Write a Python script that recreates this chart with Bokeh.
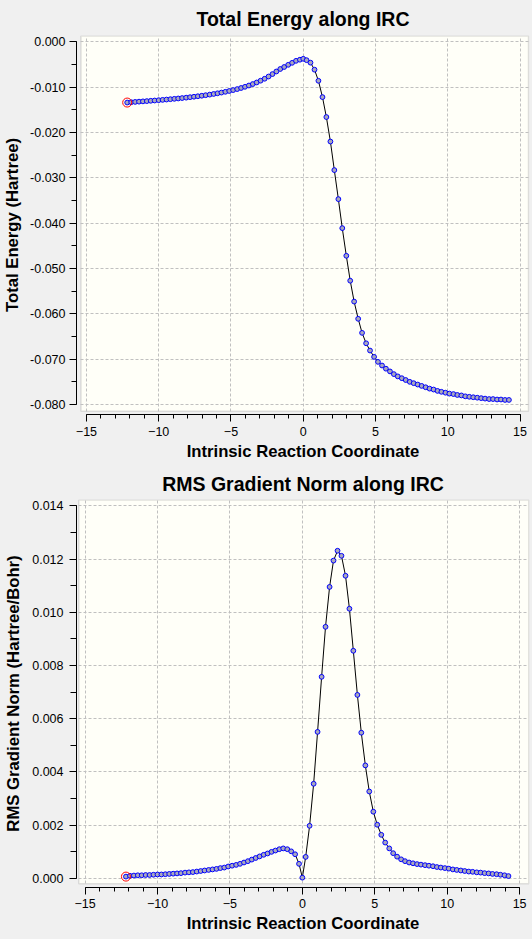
from bokeh.plotting import figure
from bokeh.layouts import column
from bokeh.models import SingleIntervalTicker, NumeralTickFormatter, BoxAnnotation, Range1d
from bokeh.embed import file_html
from bokeh.resources import INLINE

# ---------------- data ----------------
irc_x = [-12.18, -11.90, -11.63, -11.36, -11.09, -10.82, -10.55, -10.28, -10.00, -9.73,
         -9.46, -9.19, -8.92, -8.65, -8.38, -8.10, -7.83, -7.56, -7.29, -7.02,
         -6.75, -6.47, -6.20, -5.93, -5.66, -5.39, -5.12, -4.85, -4.57, -4.30,
         -4.03, -3.76, -3.49, -3.22, -2.95, -2.67, -2.40, -2.13, -1.86, -1.59,
         -1.32, -1.04, -0.77, -0.50, -0.23, 0.00,
         0.23, 0.50, 0.78, 1.05, 1.33, 1.60, 1.88, 2.15, 2.43, 2.70,
         2.98, 3.25, 3.52, 3.80, 4.07, 4.35, 4.62, 4.90, 5.17, 5.45,
         5.72, 6.00, 6.27, 6.54, 6.82, 7.09, 7.37, 7.64, 7.92, 8.19,
         8.47, 8.74, 9.02, 9.29, 9.56, 9.84, 10.11, 10.39, 10.66, 10.94,
         11.21, 11.49, 11.76, 12.04, 12.31, 12.58, 12.86, 13.13, 13.41, 13.68,
         13.96, 14.23]

total_energy = [-0.01340, -0.01333, -0.01326, -0.01320, -0.01314, -0.01308, -0.01301, -0.01295, -0.01288, -0.01281,
                -0.01274, -0.01266, -0.01258, -0.01250, -0.01241, -0.01232, -0.01222, -0.01212, -0.01201, -0.01190,
                -0.01178, -0.01165, -0.01151, -0.01136, -0.01120, -0.01103, -0.01085, -0.01065, -0.01043, -0.01019,
                -0.00993, -0.00964, -0.00932, -0.00897, -0.00858, -0.00815, -0.00766, -0.00712, -0.00655, -0.00600,
                -0.00556, -0.00508, -0.00464, -0.00420, -0.00395, -0.00375,
                -0.00405, -0.00460, -0.00615, -0.00860, -0.01220, -0.01660, -0.02200, -0.02830, -0.03470, -0.04110,
                -0.04720, -0.05270, -0.05730, -0.06110, -0.06420, -0.06650, -0.06810, -0.06950, -0.07060, -0.07140,
                -0.07210, -0.07270, -0.07330, -0.07380, -0.07420, -0.07460, -0.07500, -0.07530, -0.07560, -0.07590,
                -0.07620, -0.07650, -0.07670, -0.07700, -0.07720, -0.07740, -0.07760, -0.07770, -0.07790, -0.07800,
                -0.07820, -0.07830, -0.07840, -0.07850, -0.07860, -0.07870, -0.07880, -0.07880, -0.07890, -0.07890,
                -0.07900, -0.07900]

rms_gradient = [0.00006, 0.00009, 0.00010, 0.00011, 0.00011, 0.00012, 0.00012, 0.00013, 0.00014, 0.00014,
                0.00015, 0.00016, 0.00017, 0.00018, 0.00019, 0.00021, 0.00022, 0.00023, 0.00025, 0.00027,
                0.00029, 0.00031, 0.00033, 0.00035, 0.00038, 0.00040, 0.00044, 0.00047, 0.00050, 0.00054,
                0.00059, 0.00064, 0.00070, 0.00076, 0.00082, 0.00088, 0.00093, 0.00099, 0.00104, 0.00109,
                0.00112, 0.00109, 0.00101, 0.00090, 0.00054, 0.00002,
                0.00080, 0.00197, 0.00355, 0.00550, 0.00757, 0.00945, 0.01095, 0.01194, 0.01231, 0.01212,
                0.01137, 0.01013, 0.00855, 0.00689, 0.00547, 0.00424, 0.00326, 0.00250, 0.00201, 0.00163,
                0.00134, 0.00112, 0.00094, 0.00081, 0.00071, 0.00064, 0.00059, 0.00056, 0.00053, 0.00051,
                0.00049, 0.00047, 0.00045, 0.00042, 0.00040, 0.00038, 0.00036, 0.00033, 0.00031, 0.00029,
                0.00027, 0.00025, 0.00024, 0.00022, 0.00021, 0.00019, 0.00018, 0.00016, 0.00015, 0.00013,
                0.00011, 0.00008]

titles = ["Total Energy along IRC", "RMS Gradient Norm along IRC"]
y_labels = ["Total Energy (Hartree)", "RMS Gradient Norm (Hartree/Bohr)"]
x_label = "Intrinsic Reaction Coordinate"

# ---------------- style ----------------
FONT = "Liberation Sans"
PAGE_BG = "#f0f0f0"
IVORY = "#fffff8"
FRAME = "#a0a0a0"
GRID = "#c0c0c0"
MARK_FILL = "#a8a8bc"


def make_panel(title, tstand, ylabel, yvals, xr, yr, box, ybounds, yint, height,
               borders, xstand, ystand, ytick):
    mb_l, mb_r, mb_t, mb_b = borders
    p = figure(width=531, height=height, x_range=Range1d(*xr), y_range=Range1d(*yr),
               output_backend="svg", toolbar_location=None,
               min_border_left=mb_l, min_border_right=mb_r,
               min_border_top=mb_t, min_border_bottom=mb_b,
               background_fill_color=PAGE_BG, border_fill_color=PAGE_BG,
               outline_line_color=None)

    p.title.text = title
    p.title.align = "center"
    p.title.text_font = FONT
    p.title.text_font_size = "19.5px"
    p.title.text_font_style = "bold"
    p.title.text_color = "black"
    p.title.standoff = tstand

    # ivory plotting frame, detached from the axes
    p.add_layout(BoxAnnotation(left=box[0], right=box[1], bottom=box[2], top=box[3],
                               fill_color=IVORY, fill_alpha=1.0,
                               line_color=FRAME, line_width=1.5, level="image"))

    xt = SingleIntervalTicker(interval=5, num_minor_ticks=5)
    yt = SingleIntervalTicker(interval=yint, num_minor_ticks=2)
    xa = p.xaxis[0]
    ya = p.yaxis[0]
    xa.ticker = xt
    ya.ticker = yt
    p.xgrid[0].ticker = xt
    p.ygrid[0].ticker = yt
    xa.bounds = (-15, 15)
    ya.bounds = ybounds
    ya.formatter = NumeralTickFormatter(format="0.000")

    for ax in (xa, ya):
        ax.axis_line_color = "black"
        ax.axis_line_width = 1
        ax.major_tick_line_color = "black"
        ax.minor_tick_line_color = "black"
        ax.major_tick_in = 0
        ax.minor_tick_in = 0
        ax.major_tick_out = 7
        ax.major_label_text_font = FONT
        ax.major_label_text_font_size = "12.5px"
        ax.major_label_text_color = "black"
        ax.axis_label_text_font = FONT
        ax.axis_label_text_font_size = "16.7px"
        ax.axis_label_text_font_style = "bold"
        ax.axis_label_text_color = "black"
    xa.minor_tick_out = 4
    ya.minor_tick_out = ytick
    xa.axis_label = x_label
    ya.axis_label = ylabel
    xa.major_label_standoff = xstand[0]
    xa.axis_label_standoff = xstand[1]
    ya.major_label_standoff = ystand[0]
    ya.axis_label_standoff = ystand[1]

    for g in (p.xgrid[0], p.ygrid[0]):
        g.grid_line_color = GRID
        g.grid_line_dash = "3 2"
        g.grid_line_width = 1
    p.xgrid[0].cross_bounds = (box[2], box[3])
    p.ygrid[0].cross_bounds = (box[0], box[1])

    p.line(irc_x, yvals, line_color="black", line_width=1)
    p.scatter(irc_x, yvals, marker="circle", size=4.8, fill_color=MARK_FILL,
              line_color="#0000ff", line_width=1)
    p.scatter(irc_x[:1], yvals[:1], marker="circle", size=9, fill_color=None,
              line_color="#ff0000", line_width=1)
    return p


p1 = make_panel(titles[0], 11, y_labels[0], total_energy,
                xr=(-15.687, 15.653), yr=(-0.082206, 0.001389),
                box=(-15.378, 15.584, -0.081478, 0.001257),
                ybounds=(-0.0800001, 0.0000001), yint=0.01,
                height=465, borders=(73, 2, 35, 51), xstand=(5, 3), ystand=(4, 5), ytick=5)

p2 = make_panel(titles[1], 10, y_labels[1], rms_gradient,
                xr=(-15.594, 15.683), yr=(-0.0003496, 0.014237),
                box=(-15.437, 15.635, -0.0002105, 0.014222),
                ybounds=(-0.0000001, 0.0140001), yint=0.002,
                height=473, borders=(71, 2, 34, 51), xstand=(4, 3), ystand=(6, 6), ytick=6)

layout = column(p1, p2, spacing=0)
html = file_html(layout, INLINE)
html = html.replace("</head>", "<style>body{background-color:#f0f0f0;}</style></head>", 1)
open("out.html", "w").write(html)
